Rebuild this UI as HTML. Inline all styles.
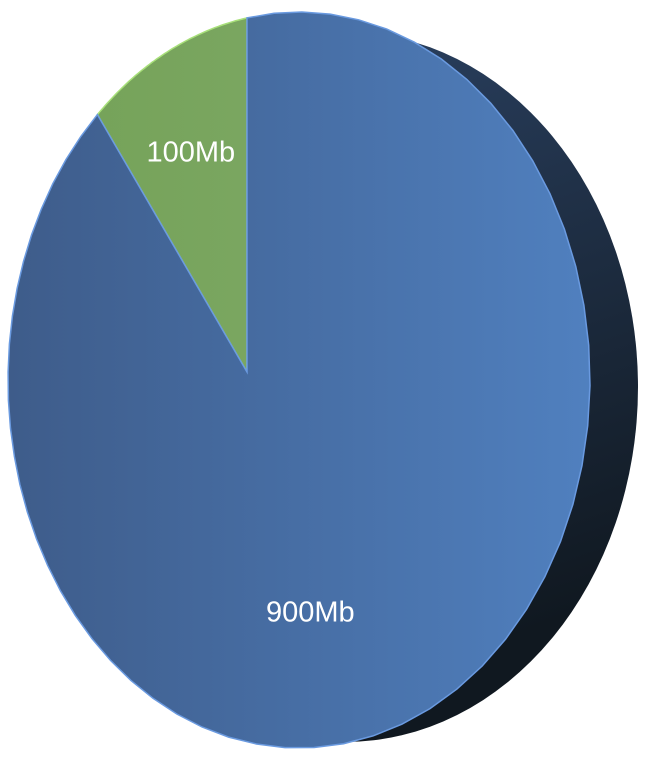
<!DOCTYPE html>
<html><head><meta charset="utf-8"><style>
html,body{margin:0;padding:0;background:#fff;}
svg{display:block;}
</style></head><body>
<svg width="664" height="768" viewBox="0 0 664 768">
<defs>
<linearGradient id="side" x1="0" y1="0" x2="0.3" y2="1">
<stop offset="0" stop-color="#2d4568"/><stop offset="1" stop-color="#101820"/>
</linearGradient>
<linearGradient id="blue" x1="0" y1="0" x2="1" y2="0">
<stop offset="0" stop-color="#3e5c8a"/><stop offset="1" stop-color="#5080bf"/>
</linearGradient>
<linearGradient id="green" x1="0" y1="0" x2="1" y2="0">
<stop offset="0" stop-color="#76a35a"/><stop offset="1" stop-color="#7aa660"/>
</linearGradient>
</defs>
<ellipse cx="345" cy="387" rx="293" ry="355" fill="url(#side)"/>
<g id="slices"></g>
</svg>
<script>
const labels = ["100Mb","900Mb"];
const values = [100,900];
const colors = ["url(#green)","url(#blue)"];
const cx=299, cy=380, rx=291, ry=368, ax=247, ay=372, k=0.8;
const g=document.getElementById('slices');
const NS="http://www.w3.org/2000/svg";
const total=values.reduce((a,b)=>a+b,0);
function edge(frac){
  const t=2*Math.PI*frac;
  const dx=-Math.sin(t)*k, dy=-Math.cos(t);
  const px=(ax-cx)/rx, py=(ay-cy)/ry, qx=dx/rx, qy=dy/ry;
  const A=qx*qx+qy*qy, B=2*(px*qx+py*qy), C=px*px+py*py-1;
  const s=(-B+Math.sqrt(B*B-4*A*C))/(2*A);
  return [ax+dx*s, ay+dy*s];
}
let cum=0;
values.forEach((v,i)=>{
  const f0=cum/total, f1=(cum+v)/total;
  let d="M"+ax+","+ay;
  for(let j=0;j<=60;j++){const p=edge(f0+(f1-f0)*j/60);d+=" L"+p[0].toFixed(1)+","+p[1].toFixed(1);}
  d+=" Z";
  const p=document.createElementNS(NS,'path');
  p.setAttribute('d',d);p.setAttribute('fill',colors[i]);
  p.setAttribute('stroke',i==0?'#a8e07a':'#6a9ae0');p.setAttribute('stroke-width','1.5');
  
  
  g.appendChild(p);
  cum+=v;
});
cum=0;
values.forEach((v,i)=>{
  const fm=(cum+v/2)/total;
  const e=edge(fm);
  const r=i==0?0.68:0.655;
  const t=document.createElementNS(NS,'text');
  t.setAttribute('x',(ax+(e[0]-ax)*r).toFixed(1));
  t.setAttribute('y',(ay+(e[1]-ay)*r+(i==0?6:6)).toFixed(1));
  t.setAttribute('text-anchor','middle');
  t.setAttribute('fill','#fff');
  t.setAttribute('font-family','Liberation Sans, sans-serif');
  t.setAttribute('font-size','29');
  
  
  t.textContent=labels[i];
  g.appendChild(t);
  cum+=v;
});
</script>
</body></html>
